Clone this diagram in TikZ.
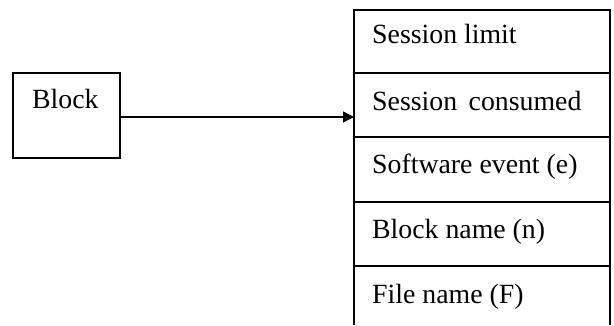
\documentclass[tikz,border=0pt]{standalone}
\usepackage{fontspec}
\setmainfont{Liberation Serif}
\usetikzlibrary{arrows.meta}
\begin{document}
\begin{tikzpicture}[x=1pt,y=-1pt,
  ln/.style={line width=1.4pt,black},
  lbl/.style={anchor=base west,inner sep=0pt,font=\fontsize{27.8}{30}\selectfont}]
\useasboundingbox (0,0) rectangle (614,325);
% block
\node[ln,draw,minimum width=107pt,minimum height=85pt,inner sep=0pt] (block) at (66.5,115.5) {};
\node[lbl] (blocktxt) at (32,108) {Block};
% column
\draw[ln] (354,325) -- (354,10) -- (610,10) -- (610,325);
\foreach \y in {73,137,202,266} \draw[ln] (354,\y) -- (610,\y);
\node[lbl] (c1) at (372,43) {Session limit};
\node[lbl] (c2) at (372,110) {Session\, consumed};
\node[lbl] (c3) at (372,173) {Software event (e)};
\node[lbl] (c4) at (372,238) {Block name (n)};
\node[lbl] (c5) at (372,303) {File name (F)};
\coordinate (tgt) at (354,117);
\draw[ln,-{Triangle[length=11pt,width=11pt]}] (block.east |- tgt) -- (tgt);
\end{tikzpicture}
\end{document}
